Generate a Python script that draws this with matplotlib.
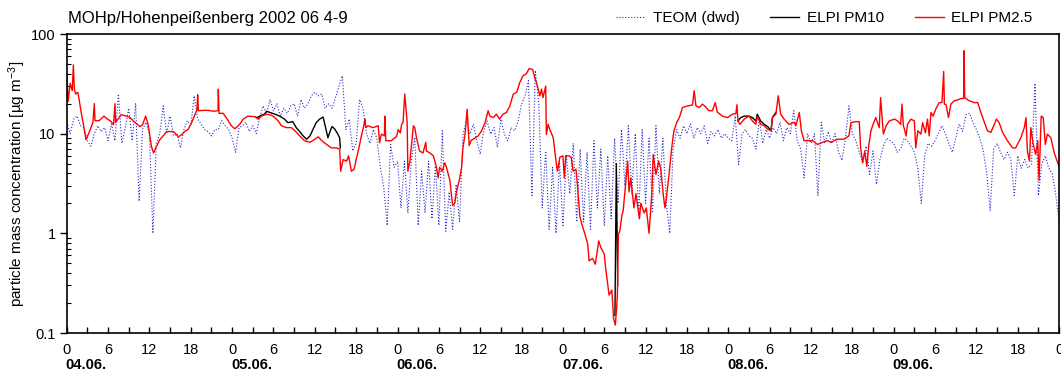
import matplotlib.pyplot as plt
import matplotlib.transforms as mtransforms
import numpy as np

plt.rcParams['font.family'] = ['Liberation Sans', 'DejaVu Sans']
plt.rcParams['mathtext.default'] = 'regular'

# TEOM (dwd), half-hourly, one list per day (hour 0.0 .. 23.5)
teom_0406 = [13, 10, 14, 15, 12, 11.5, 8.5, 7.5, 10, 12, 10.5, 11.5, 8.5, 12.5, 8.5, 25,
             8, 11.5, 18, 8.5, 20, 2.1, 11, 13, 10, 1.0, 8, 10, 19, 10, 15, 9.5,
             10, 7.2, 11, 13.5, 12, 24, 14, 12.5, 11, 10.5, 9.5, 11, 11, 13.5, 12, 11]
teom_0506 = [9, 6.5, 11.5, 12, 13, 10.5, 12, 10, 14.5, 19, 16, 22, 17, 20, 15, 18,
             16, 19, 20, 15, 22, 18, 20, 24, 26, 24, 25, 18, 20, 18, 23, 30,
             38, 11, 14, 6.7, 8, 22, 18, 10, 8, 11, 9, 4.6, 2.9, 1.2, 7.8, 4.6]
teom_0606 = [5.3, 1.8, 5.3, 1.6, 5.3, 9.2, 1.2, 4.2, 1.6, 5.3, 1.4, 4.9, 1.2, 10.7, 1.05, 2.6,
             1.1, 3.1, 1.3, 9.9, 13.4, 9.9, 12.4, 8.5, 6.2, 10.7, 13.4, 9.9, 11.5, 7.3, 14, 9.9,
             8.5, 11.5, 10.7, 13.4, 19.8, 24, 34, 2.4, 43, 20, 1.8, 6.7, 1.1, 4.6, 1.0, 5.3]
teom_0706 = [1.2, 6, 2.5, 8, 1.3, 7, 1.3, 6.5, 1.1, 8.5, 1.8, 7, 1.2, 6, 1.4, 9,
             2, 11, 3, 12, 2.5, 10, 1.5, 11, 2, 9, 1.6, 12, 2.5, 9, 2, 1.0,
             7, 11, 9, 12, 10, 12.5, 9, 11.5, 10, 12, 8, 10.5, 9.5, 11, 9, 10]
teom_0806 = [9, 8.5, 15, 4.9, 10, 11, 9.5, 9, 7, 14, 8, 11, 9, 11.5, 10, 13,
             8.5, 11.5, 10, 17, 8.5, 7, 3.6, 10, 8, 10, 2.4, 13, 8, 10.5, 8, 10,
             6.5, 5.4, 9, 19, 10, 8.5, 6.5, 5.2, 7.5, 3.9, 6.7, 3.1, 5.5, 7.5, 9, 8.5]
teom_0906 = [8, 6.5, 7, 9, 8.5, 7.5, 6.5, 4.5, 2.0, 6, 8, 7.5, 8.5, 10, 12, 10,
             8, 6.5, 9, 12.5, 10.5, 15.5, 16, 13, 11, 9, 6.7, 4, 1.7, 7, 8, 6.5,
             5.5, 6.5, 5.5, 2.4, 6, 4.5, 5.5, 4.5, 5, 32, 2.4, 5, 6, 4.5, 4, 2.5, 1.3]

# ELPI PM2.5, (hours since 04.06. 0h, ug/m3)
pm25_0406 = [(0.0, 40), (0.2, 21), (0.5, 32), (0.8, 27), (0.96, 49), (1.1, 28), (1.3, 25),
             (1.6, 26), (1.8, 22), (2.05, 17), (2.5, 11.5), (2.8, 8.7), (3.3, 10.5), (3.8, 13),
             (4.0, 20), (4.1, 13.5), (4.7, 13.5), (5.4, 15), (5.9, 14), (6.3, 13.5), (6.8, 12.3),
             (7.0, 20), (7.1, 13), (7.9, 15.5), (8.7, 15), (9.2, 14.5), (9.7, 13.3), (10.2, 12.5),
             (10.6, 11.8), (11.0, 12.3), (11.45, 15), (11.8, 12.5), (12.3, 7.4), (12.6, 6.4),
             (13.0, 7.4), (13.5, 8.7), (14.0, 9.5), (14.5, 10.5), (15.5, 10.5), (16.2, 9.3),
             (16.7, 9.8), (17.1, 10.5), (17.6, 11), (18.1, 12.8), (18.9, 17.4), (19.0, 24.6),
             (19.1, 17), (20.3, 17.2), (21.3, 16.8), (21.95, 17), (22.0, 28), (22.1, 16),
             (22.7, 16), (23.2, 14.3), (23.9, 12)]
pm25_0506 = [(24.4, 11.2), (25.1, 12.4), (25.6, 14), (26.3, 15), (27.3, 14.8), (27.8, 14),
             (28.25, 15), (29.0, 15.7), (29.7, 15.3), (30.2, 14.5), (30.7, 13.4), (31.15, 12),
             (31.9, 11.5), (32.6, 11.5), (33.1, 10.7), (33.8, 9.5), (34.5, 8.5), (35.3, 8.2),
             (36.0, 8.8), (36.5, 9.3), (37.0, 8.5), (37.7, 7.8), (38.4, 7.2), (39.1, 7.2),
             (39.6, 7.0), (39.75, 4.2), (40.1, 5.5), (40.6, 5.3), (40.9, 6), (41.3, 4.2),
             (41.7, 4.4), (42.0, 5.5), (42.4, 7.2), (42.7, 9.1), (43.15, 12.4), (43.25, 14),
             (43.4, 11.5), (43.7, 12), (44.45, 11.5), (45.2, 12), (45.4, 8.1), (45.65, 9.9),
             (46.1, 9.5), (46.15, 15), (46.3, 8.5), (47.1, 8.5), (47.6, 9.1), (47.85, 9.3)]
pm25_0606 = [(48.1, 11), (48.4, 10.2), (48.6, 12.4), (48.8, 12.9), (49.05, 25), (49.4, 12.9),
             (49.5, 4.2), (49.8, 5.3), (50.3, 12), (50.5, 11.5), (50.75, 9.1), (51.2, 6.7),
             (51.7, 6.4), (52.1, 8.2), (52.2, 6.7), (52.7, 6.4), (53.2, 6), (53.65, 4.6),
             (53.9, 3.6), (54.1, 4.6), (54.5, 4.2), (54.85, 5.1), (55.1, 4.6), (55.6, 3.4),
             (56.0, 1.9), (56.3, 2.0), (56.55, 2.6), (57.0, 3.5), (57.3, 4.6), (57.5, 7.3),
             (57.8, 9.9), (58.1, 17.6), (58.4, 7.6), (58.7, 8.6), (59.2, 9), (59.7, 9.5),
             (60.2, 10.7), (60.7, 12.9), (61.15, 17), (61.4, 15), (61.9, 14.5), (62.35, 15.7),
             (62.8, 14), (63.3, 15.7), (63.8, 16.3), (64.3, 19), (64.8, 25), (65.3, 26),
             (65.75, 32.7), (66.2, 38), (66.7, 40), (67.1, 45), (67.6, 44), (67.9, 36.7),
             (68.25, 31), (68.65, 24), (68.9, 28), (69.1, 23), (69.5, 30), (69.6, 9.8),
             (69.85, 12.4), (70.1, 11), (70.6, 9.1), (71.0, 5.3), (71.2, 4.2), (71.55, 5.8)]
pm25_0706 = [(72.0, 6), (72.2, 3.6), (72.4, 6), (72.9, 6), (73.2, 5.8), (73.5, 4.2), (73.9, 4.4),
             (74.1, 3.1), (74.45, 1.5), (74.8, 1.2), (75.2, 0.98), (75.6, 0.78), (75.8, 0.53),
             (76.3, 0.56), (76.7, 0.49), (77.2, 0.84), (77.5, 0.72), (78.0, 0.62), (78.2, 0.45),
             (78.7, 0.24), (79.1, 0.27), (79.35, 0.14), (79.6, 0.12), (79.8, 0.18), (79.9, 0.24),
             (80.05, 0.98), (80.25, 1.05), (80.55, 1.5), (80.75, 1.7), (81.1, 3.1), (81.4, 5.3),
             (81.6, 2.6), (81.85, 3.6), (82.3, 1.8), (82.6, 2.5), (83.1, 1.4), (83.3, 2.0),
             (83.8, 1.6), (84.1, 1.8), (84.5, 1.0), (84.9, 2.5), (85.1, 6.2), (85.5, 3.9),
             (85.9, 5.3), (86.2, 4.4), (86.55, 2.5), (86.8, 1.8), (87.0, 2.2), (87.4, 3.9),
             (87.8, 7.3), (88.1, 10.6), (88.5, 12.9), (88.9, 14.5), (89.35, 18.3), (90.1, 19),
             (90.8, 19.4), (91.05, 27), (91.3, 19), (91.8, 18.3), (92.25, 19.8), (92.7, 18.6),
             (93.2, 17), (93.7, 17), (94.1, 20.5), (94.4, 16.5), (95.15, 15), (95.9, 14.5)]
pm25_0806 = [(96.6, 15.7), (97.1, 15.9), (97.25, 19.5), (97.4, 13.4), (97.7, 12.4), (98.3, 14),
             (99.0, 15), (99.5, 13.4), (100.0, 12.4), (100.2, 15), (100.7, 12.4), (101.2, 12),
             (101.7, 11.1), (102.2, 10.7), (102.4, 14.5), (102.9, 15.7), (103.25, 24),
             (103.6, 15.7), (104.1, 14), (104.8, 12.4), (105.55, 13), (105.8, 12), (106.3, 16.3),
             (106.6, 10.7), (107.0, 8.5), (107.5, 8.5), (108.2, 8.5), (108.95, 7.8), (109.7, 8.2),
             (110.4, 8.5), (110.9, 8.2), (111.85, 8.8), (112.8, 8.8), (113.5, 9.5), (113.8, 12.9),
             (114.5, 13.2), (115.0, 13.2), (115.2, 7.2), (115.5, 5.1), (115.8, 6.7), (116.1, 4.7),
             (116.4, 7.8), (116.7, 10.7), (117.1, 12.9), (117.4, 14.5), (117.65, 12.9),
             (117.9, 11.5), (118.1, 23), (118.5, 9.9), (118.9, 12), (119.35, 13.4)]
pm25_0906 = [(120.1, 14), (120.6, 13.4), (121.0, 12.4), (121.2, 19.8), (121.4, 12), (121.5, 11.5),
             (121.8, 9.5), (122.0, 12.4), (122.5, 14), (123.0, 13.4), (123.2, 7.2), (123.5, 10.7),
             (123.95, 9.9), (124.2, 12.9), (124.6, 10.2), (124.9, 14), (125.15, 9.5), (125.4, 16.3),
             (125.7, 15), (126.1, 17.6), (126.6, 20.5), (127.0, 20.5), (127.25, 42), (127.35, 19.8),
             (127.6, 19.5), (127.95, 14.5), (128.3, 19.8), (128.8, 21.4), (129.3, 21.8),
             (129.75, 22.5), (130.15, 22.5), (130.2, 68), (130.3, 23), (130.95, 21.4), (131.7, 20.5),
             (132.2, 20.5), (132.65, 16.3), (133.1, 13.4), (133.6, 10.7), (134.1, 10.3),
             (134.6, 12.4), (134.9, 14), (135.3, 12.9), (135.8, 10.3), (136.5, 8.5), (137.25, 7.2),
             (137.7, 7.2), (138.45, 9.1), (138.95, 11.5), (139.2, 14.5), (139.4, 6.7), (139.7, 5.3),
             (139.9, 11.5), (140.25, 7.8), (140.6, 6.2), (140.9, 8.5), (141.1, 3.4), (141.4, 15),
             (141.7, 14.5), (142.0, 7.8), (142.3, 9.9), (142.8, 9.1), (143.3, 6.4), (143.8, 5.1),
             (144.0, 4.7)]

# ELPI PM10, only where it separates from PM2.5
pm10_0506 = [(27.5, 14.5), (27.8, 14.7), (28.25, 15.3), (28.7, 15.7), (29.0, 16.8), (29.5, 16.3),
             (30.2, 15.7), (30.9, 15), (31.6, 14), (32.1, 12.9), (32.8, 13.2), (33.3, 11.5),
             (33.8, 10.5), (34.3, 9.5), (34.8, 8.8), (35.3, 9.5), (35.75, 11.1), (36.2, 12.9),
             (36.7, 14), (37.2, 14.7), (37.5, 12), (37.9, 9.1), (38.2, 10.5), (38.5, 11.8),
             (38.9, 11.1), (39.3, 10), (39.6, 9.1), (39.7, 7.2)]
pm10_0706 = [(79.55, 0.15), (79.75, 5.0), (79.95, 0.3)]
pm10_0806 = [(97.4, 13.4), (97.8, 14.5), (98.3, 15), (99.0, 15), (99.5, 14.5), (100.0, 13.4),
             (100.2, 15.7), (100.7, 13.4), (101.2, 12.4), (101.7, 11.8), (102.2, 10.7),
             (102.4, 14.5), (102.9, 16.3)]

days = ['04.06.', '05.06.', '06.06.', '07.06.', '08.06.', '09.06.']

teom = np.array(teom_0406 + teom_0506 + teom_0606 + teom_0706 + teom_0806 + teom_0906)
t_teom = np.arange(len(teom)) * 0.5
pm25 = np.array(pm25_0406 + pm25_0506 + pm25_0606 + pm25_0706 + pm25_0806 + pm25_0906)

fig = plt.figure(figsize=(10.61, 3.72), dpi=100)
ax = fig.add_axes([0.0629, 0.1048, 0.9353, 0.8038])

ax.plot(t_teom, teom, ls=':', lw=0.8, color='#2b2bc8', label='TEOM (dwd)')
first = True
for seg in (pm10_0506, pm10_0706, pm10_0806):
    seg = np.array(seg)
    ax.plot(seg[:, 0], seg[:, 1], color='black', lw=1.0,
            label='ELPI PM10' if first else None)
    first = False
ax.plot(pm25[:, 0], pm25[:, 1], color='#ff0000', lw=1.0, label='ELPI PM2.5')

ax.set_yscale('log')
ax.set_ylim(0.1, 100)
ax.set_xlim(0, 144)
ax.set_yticks([0.1, 1, 10, 100])
ax.set_yticklabels(['0.1', '1', '10', '100'])
ax.set_xticks(np.arange(0, 145, 6))
ax.set_xticklabels([str(h % 24) for h in range(0, 145, 6)])
ax.set_xticks(np.arange(0, 145, 3), minor=True)
ax.tick_params(axis='x', which='both', direction='in', length=4, width=1, labelsize=10.5, pad=7)
ax.tick_params(axis='y', which='major', direction='out', length=5, width=1, labelsize=10.5, pad=3)
ax.tick_params(axis='y', which='minor', direction='in', length=3, width=0.8)
for sp in ax.spines.values():
    sp.set_linewidth(1.2)

ax.set_ylabel(r'particle mass concentration [µg m$^{-3}$]', fontsize=11)
ax.yaxis.set_label_coords(-0.039, 0.5)

trans = mtransforms.blended_transform_factory(ax.transData, ax.transAxes)
for i, d in enumerate(days):
    ax.text(i * 24 - 0.15, -0.107, d, transform=trans, ha='left', va='center',
            fontsize=10.5, fontweight='bold')

fig.text(68 / 1061, 1 - 18 / 372, 'MOHp/Hohenpeißenberg 2002 06 4-9', fontsize=12,
         ha='left', va='center')
fig.legend(loc='center', bbox_to_anchor=(0.777, 1 - 18 / 372), ncol=3, frameon=False,
           fontsize=11, handlelength=1.9, handletextpad=0.5, columnspacing=2.0)

fig.savefig('out.png', dpi=100)
